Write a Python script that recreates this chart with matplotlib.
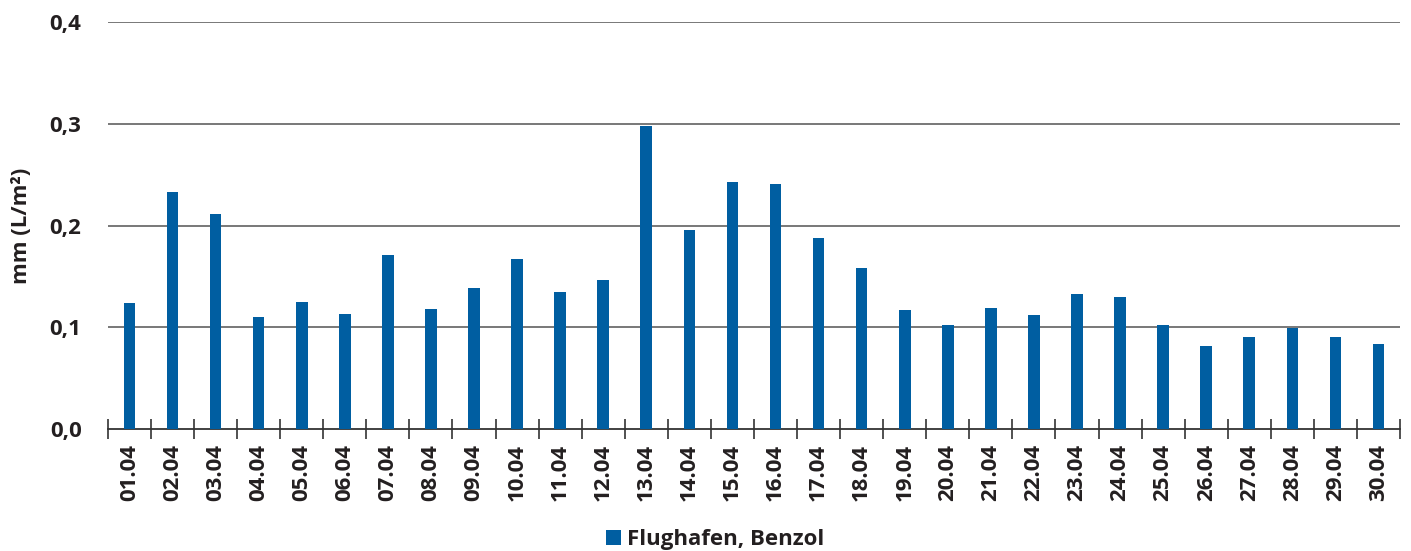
import matplotlib.pyplot as plt
import numpy as np

# daily values, April
days = ['01.04', '02.04', '03.04', '04.04', '05.04', '06.04', '07.04', '08.04',
        '09.04', '10.04', '11.04', '12.04', '13.04', '14.04', '15.04', '16.04',
        '17.04', '18.04', '19.04', '20.04', '21.04', '22.04', '23.04', '24.04',
        '25.04', '26.04', '27.04', '28.04', '29.04', '30.04']
values = [0.124, 0.233, 0.211, 0.110, 0.125, 0.113, 0.171, 0.118, 0.139, 0.167,
          0.135, 0.146, 0.298, 0.196, 0.243, 0.241, 0.188, 0.158, 0.117, 0.102,
          0.119, 0.112, 0.133, 0.130, 0.102, 0.082, 0.090, 0.099, 0.090, 0.084]
yticks = [0.0, 0.1, 0.2, 0.3, 0.4]
ytick_labels = ['0,0', '0,1', '0,2', '0,3', '0,4']

plt.rcParams['font.family'] = ['Open Sans', 'DejaVu Sans']
plt.rcParams['font.weight'] = 'bold'
txt = '#231f20'

fig = plt.figure(figsize=(14.11, 5.51), dpi=100)
ax = fig.add_axes([0.0765, 0.2214, 0.9157, 0.7386])

x = np.arange(len(days))
ax.bar(x, values, width=0.27, color='#005ea1', label='Flughafen, Benzol', zorder=3)

ax.set_xlim(-0.5, len(days) - 0.5)
ax.set_ylim(0, 0.4)

# horizontal grid lines
for y in yticks[1:]:
    ax.axhline(y, color='#6d6d6d', lw=1.3, zorder=1)

ax.set_yticks(yticks)
ax.set_yticklabels(ytick_labels, fontsize=16, fontweight='bold', color=txt)
ax.tick_params(axis='y', length=0, pad=19)

ax.set_xticks(x)
ax.set_xticklabels(days, rotation=90, fontsize=16, fontweight='bold', color=txt)
ax.tick_params(axis='x', which='major', length=0, pad=11)
ax.set_xticks(np.arange(len(days) + 1) - 0.5, minor=True)
ax.tick_params(axis='x', which='minor', length=14, direction='inout',
               width=1.2, color='#333333')

for s in ['top', 'right', 'left']:
    ax.spines[s].set_visible(False)
ax.spines['bottom'].set_color('#333333')
ax.spines['bottom'].set_linewidth(1.3)

ax.set_ylabel('mm (L/m²)', fontsize=16, fontweight='bold', color=txt)
ax.yaxis.set_label_coords(-0.059, 0.5)

fig.legend(loc='lower center', bbox_to_anchor=(0.507, -0.035), frameon=False,
           handlelength=0.65, handleheight=0.65, handletextpad=0.3,
           prop={'size': 16, 'weight': 'bold'}, labelcolor=txt)

plt.savefig('out.png', dpi=100)
